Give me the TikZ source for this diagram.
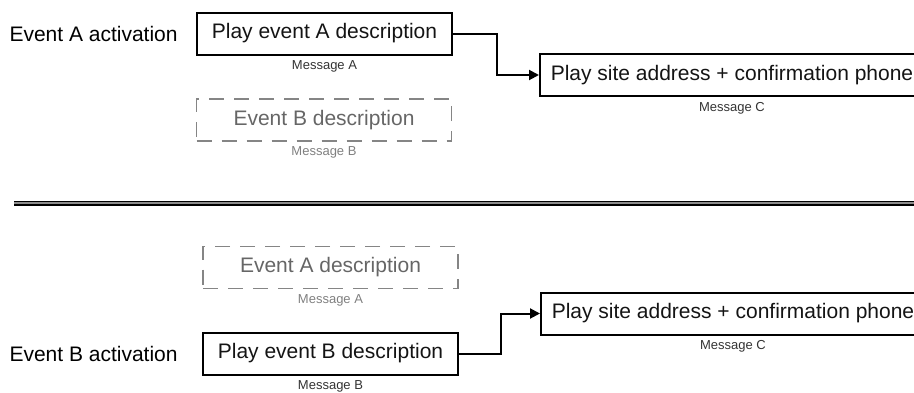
\documentclass[tikz,border=0pt]{standalone}
\usepackage{fontspec}
\setmainfont{Liberation Sans}
\usetikzlibrary{arrows.meta, positioning}

\begin{document}
\begin{tikzpicture}[
  x=1pt, y=-1pt,
  every node/.style={font=\fontsize{21}{25}\selectfont},
  playbox/.style={draw, line width=2pt, text=black!92,
                  minimum width=255pt, minimum height=42pt, inner sep=0pt},
  sitebox/.style={playbox, minimum width=384pt},
  ghostbox/.style={draw=black!48, line width=1.6pt, dash pattern=on 15pt off 10pt,
                   text=black!60, minimum width=255pt, minimum height=42pt, inner sep=0pt},
  tag/.style={font=\fontsize{13}{15}\selectfont, text=black!80},
  ghosttag/.style={tag, text=black!50},
  arr/.style={-{Triangle[length=10pt, width=10pt]}, line width=2pt},
]
\useasboundingbox (0,0) rectangle (914,392);
\clip (0,0) rectangle (914,392);

% Event A played
\node[anchor=west] (acta) at (6,33.5) {Event A activation};
\node[playbox] (pla) at (324.5,33.5) {Play event A description};
\node[tag, below=1.5pt of pla] (msga) {Message A};
\node[ghostbox] (gb) at (324,120) {Event B description};
\node[ghosttag, below=1.5pt of gb] (gmsgb) {Message B};
\node[sitebox] (sitea) at (732,75) {Play site address + confirmation phone};
\node[tag, below=1.5pt of sitea] (msgca) {Message C};
\draw[arr] (pla.east) -- ++(44pt,0) |- (sitea.west);

% separator
\draw[line width=1.5pt, double=black!45, double distance=2pt] (14,203) -- (930,203);

% Event B played
\node[ghostbox] (ga) at (330.5,267.5) {Event A description};
\node[ghosttag, below=1.5pt of ga] (gmsga) {Message A};
\node[anchor=west] (actb) at (6,353.5) {Event B activation};
\node[playbox] (plb) at (330.5,353.5) {Play event B description};
\node[tag, below=1.5pt of plb] (msgb) {Message B};
\node[sitebox] (siteb) at (733,313.5) {Play site address + confirmation phone};
\node[tag, below=1.5pt of siteb] (msgcb) {Message C};
\draw[arr] (plb.east) -- ++(42pt,0) |- (siteb.west);

\end{tikzpicture}
\end{document}
